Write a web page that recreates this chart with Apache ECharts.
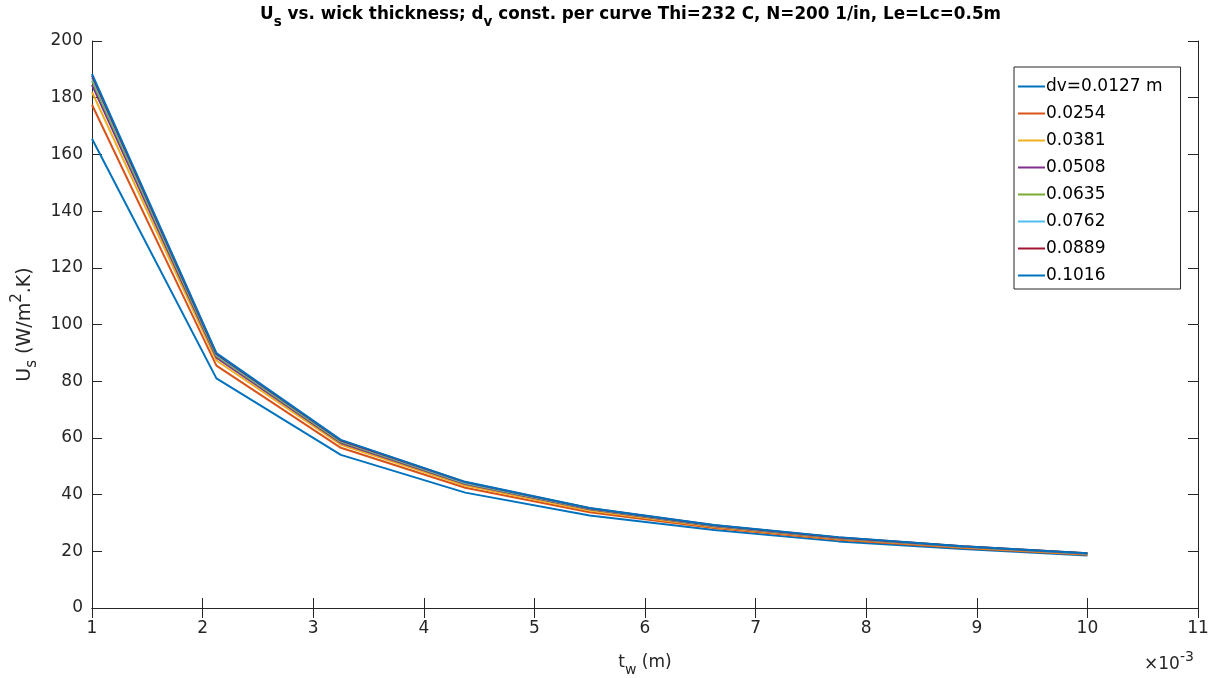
<!DOCTYPE html>
<html><head><meta charset="utf-8">
<script src="https://cdn.jsdelivr.net/npm/echarts@6/dist/echarts.min.js"></script>
<style>html,body{margin:0;padding:0;background:#fff}#c{width:1221px;height:678px}</style>
</head><body><div id="c"></div>
<script>
const tw = [1, 2.125, 3.25, 4.375, 5.5, 6.625, 7.75, 8.875, 10];
const names = ['dv=0.0127 m','0.0254','0.0381','0.0508','0.0635','0.0762','0.0889','0.1016'];
const s1 = [165.5, 81.0, 54.0, 40.7, 32.6, 27.5, 23.5, 20.8, 18.5];
const s2 = [177.5, 85.5, 56.5, 42.4, 33.8, 28.2, 24.1, 21.2, 18.8];
const s3 = [182.0, 87.3, 57.6, 43.2, 34.4, 28.6, 24.4, 21.4, 19.0];
const s4 = [184.5, 88.3, 58.2, 43.7, 34.8, 28.8, 24.6, 21.6, 19.1];
const s5 = [186.0, 88.9, 58.6, 44.0, 35.0, 29.0, 24.7, 21.7, 19.2];
const s6 = [187.0, 89.3, 58.9, 44.2, 35.1, 29.1, 24.8, 21.7, 19.2];
const s7 = [187.8, 89.6, 59.1, 44.4, 35.2, 29.2, 24.9, 21.8, 19.3];
const s8 = [188.4, 89.9, 59.3, 44.5, 35.3, 29.3, 25.0, 21.8, 19.3];
const seriesVals = [s1,s2,s3,s4,s5,s6,s7,s8];
const colors = ['#0072BD','#D95319','#EDB120','#7E2F8E','#77AC30','#4DBEEE','#A2142F','#0072BD'];

const font = 'DejaVu Sans, sans-serif';
const axCol = '#262626';
const chart = echarts.init(document.getElementById('c'));
const hiddenAx = {show:true, axisLine:{show:true,lineStyle:{color:axCol,width:1}}, axisTick:{show:true,inside:true,length:10,lineStyle:{color:axCol}}, axisLabel:{show:false}, splitLine:{show:false}};
chart.setOption({
  animation:false,
  backgroundColor:'#fff',
  color: colors,
  title:{
    text:'{b|U}{s|s}{b| vs. wick thickness; d}{s|v}{b| const. per curve Thi=232 C, N=200 1/in, Le=Lc=0.5m}',
    left:255, top:-4,
    textStyle:{rich:{
      b:{fontFamily:font,fontSize:16.8,fontWeight:'bold',color:'#000',lineHeight:28,verticalAlign:'middle'},
      s:{fontFamily:font,fontSize:13.5,fontWeight:'bold',color:'#000',lineHeight:28,verticalAlign:'bottom'}
    }}
  },
  grid:{left:92,right:23,top:41,bottom:70,containLabel:false,outerBoundsMode:'none'},
  legend:{
    orient:'vertical', left:1014, top:67,
    backgroundColor:'#fff', borderColor:axCol, borderWidth:1,
    padding:[11,18,5,4], itemWidth:27, itemHeight:18, itemGap:10,
    textStyle:{fontFamily:font,fontSize:17,color:'#000',padding:[0,0,0,-4]},
    data: names.map(n=>({name:n, icon:'path://M0,0L27,0L27,2L0,2Z'}))
  },
  xAxis:[{
    type:'value', min:1, max:11, interval:1,
    name:'{b|t}{s|w}{b| (m)}', nameLocation:'middle', nameGap:41,
    nameTextStyle:{rich:{
      b:{fontFamily:font,fontSize:17,color:axCol,lineHeight:28,verticalAlign:'middle'},
      s:{fontFamily:font,fontSize:14,color:axCol,lineHeight:28,verticalAlign:'bottom'}
    }},
    axisLine:{lineStyle:{color:axCol,width:1}},
    axisTick:{inside:true,length:10,lineStyle:{color:axCol}},
    axisLabel:{fontFamily:font,fontSize:17,color:axCol,margin:12},
    splitLine:{show:false}
  },{
    type:'value', min:1, max:11, interval:1, position:'top', ...hiddenAx
  }],
  yAxis:[{
    type:'value', min:0, max:200, interval:20,
    name:'{b|U}{s|s}{b| (W/m}{p|2}{b|.K)}', nameLocation:'middle', nameGap:51, nameRotate:90,
    nameTextStyle:{rich:{
      b:{fontFamily:font,fontSize:19,color:axCol,lineHeight:30,verticalAlign:'middle'},
      s:{fontFamily:font,fontSize:15,color:axCol,lineHeight:30,verticalAlign:'bottom'},
      p:{fontFamily:font,fontSize:15,color:axCol,lineHeight:30,verticalAlign:'top'}
    }},
    axisLine:{show:true,lineStyle:{color:axCol,width:1}},
    axisTick:{show:true,inside:true,length:10,lineStyle:{color:axCol}},
    axisLabel:{fontFamily:font,fontSize:17,color:axCol,margin:9},
    splitLine:{show:false}
  },{
    type:'value', min:0, max:200, interval:20, position:'right', ...hiddenAx
  }],
  graphic:[{
    type:'text', left:1144, top:650,
    style:{text:'{x|×10}{p|-3}', rich:{
      x:{fontFamily:font,fontSize:17,fill:axCol,lineHeight:30,verticalAlign:'middle'},
      p:{fontFamily:font,fontSize:14,fill:axCol,lineHeight:30,verticalAlign:'top'}
    }}
  }],
  series: seriesVals.map((v,i)=>({
    name:names[i], type:'line', xAxisIndex:0, yAxisIndex:0,
    data: tw.map((x,j)=>[x,v[j]]),
    symbol:'none', lineStyle:{width:2,color:colors[i]}, itemStyle:{color:colors[i]},
    z: 2+i
  }))
});
</script></body></html>
